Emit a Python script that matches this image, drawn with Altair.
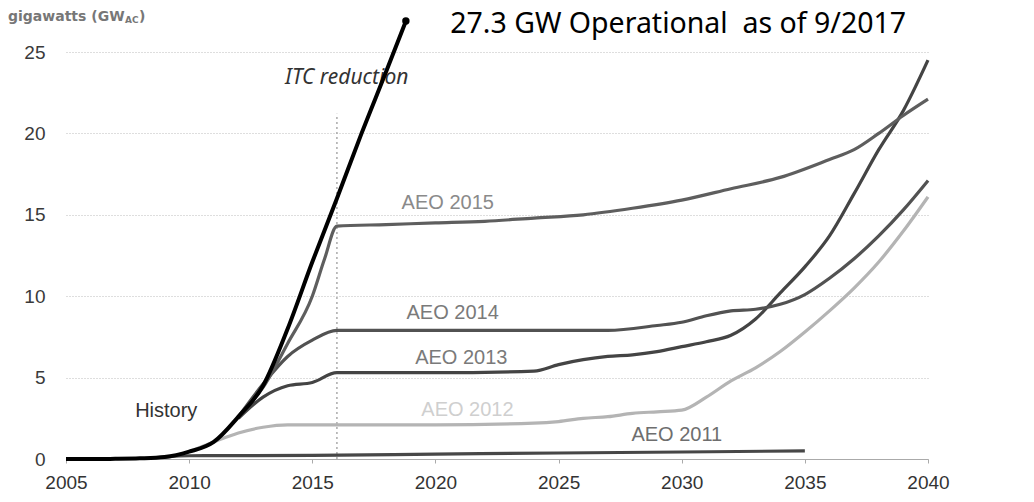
import altair as alt
import pandas as pd

# ---- data ----
hist_years = [2005, 2006, 2007, 2008, 2009, 2010, 2011, 2012, 2013, 2014, 2015, 2016, 2017, 2018, 2018.8]
hist_vals = [0, 0, 0.01, 0.04, 0.12, 0.45, 1.05, 2.6, 4.5, 8.0, 12.1, 16.0, 20.0, 23.8, 26.9]

aeo2015_years = [2012, 2013, 2014, 2015, 2015.5, 2016, 2018, 2020, 2022, 2024, 2026, 2028, 2030, 2032, 2034, 2036, 2037, 2038, 2039, 2040]
aeo2015_vals = [2.6, 4.4, 7.1, 10.0, 12.3, 14.3, 14.4, 14.5, 14.6, 14.8, 15.0, 15.4, 15.9, 16.6, 17.3, 18.4, 19.0, 20.0, 21.1, 22.1]

aeo2014_years = [2012, 2013, 2014, 2015, 2016, 2020, 2024, 2027, 2029, 2030, 2031, 2032, 2033, 2034, 2035, 2036, 2037, 2038, 2039, 2040]
aeo2014_vals = [2.6, 4.6, 6.3, 7.3, 7.9, 7.9, 7.9, 7.9, 8.2, 8.4, 8.8, 9.1, 9.2, 9.5, 10.1, 11.1, 12.3, 13.7, 15.3, 17.1]

aeo2013_years = [2012, 2013, 2014, 2015, 2016, 2020, 2024, 2025, 2026, 2027, 2028, 2029, 2030, 2031, 2032, 2033, 2034, 2035, 2036, 2037, 2038, 2039, 2040]
aeo2013_vals = [2.5, 3.8, 4.5, 4.7, 5.3, 5.3, 5.4, 5.8, 6.1, 6.3, 6.4, 6.6, 6.9, 7.2, 7.6, 8.6, 10.2, 11.8, 13.7, 16.3, 19.0, 21.4, 24.5]

aeo2012_years = [2010, 2011, 2012, 2013, 2014, 2016, 2020, 2024, 2025, 2026, 2027, 2028, 2029, 2030, 2031, 2032, 2033, 2034, 2035, 2036, 2037, 2038, 2039, 2040]
aeo2012_vals = [0.45, 1.05, 1.6, 1.95, 2.1, 2.1, 2.1, 2.2, 2.3, 2.5, 2.6, 2.8, 2.9, 3.0, 3.8, 4.8, 5.6, 6.6, 7.8, 9.1, 10.5, 12.1, 14.0, 16.1]

aeo2011_years = [2009, 2010, 2015, 2020, 2025, 2030, 2035]
aeo2011_vals = [0.12, 0.2, 0.22, 0.3, 0.37, 0.43, 0.5]

series_names = ["AEO 2011", "AEO 2012", "AEO 2013", "AEO 2014", "AEO 2015"]
series_colors = ["#474747", "#b4b4b4", "#444444", "#525252", "#5e5e5e"]

label_texts = ["AEO 2015", "AEO 2014", "AEO 2013", "AEO 2012", "AEO 2011"]
label_years = [2020.5, 2020.7, 2021.05, 2021.3, 2029.8]
label_vals = [15.7, 8.96, 6.2, 3.0, 1.47]
label_colors = ["#8a8a8a", "#7a7a7a", "#7a7a7a", "#cfcfcf", "#6e6e6e"]

itc_year, itc_cut = 2016, 21.2
op_year, op_val = 2018.8, 26.9
op_text = "27.3 GW Operational \u00a0as of 9/2017"

x_ticks = [2005, 2010, 2015, 2020, 2025, 2030, 2035, 2040]
y_ticks = [0, 5, 10, 15, 20, 25]

# ---- tables ----
rows = []
for name, yrs, vs in [("AEO 2011", aeo2011_years, aeo2011_vals),
                      ("AEO 2012", aeo2012_years, aeo2012_vals),
                      ("AEO 2013", aeo2013_years, aeo2013_vals),
                      ("AEO 2014", aeo2014_years, aeo2014_vals),
                      ("AEO 2015", aeo2015_years, aeo2015_vals)]:
    for y, v in zip(yrs, vs):
        rows.append({"series": name, "year": y, "value": v})
aeo_df = pd.DataFrame(rows)
hist_df = pd.DataFrame({"year": hist_years, "value": hist_vals})
lab_df = pd.DataFrame({"text": label_texts, "year": label_years, "value": label_vals, "c": label_colors})

xs = alt.Scale(domain=[2005, 2040], nice=False, zero=False)
ys = alt.Scale(domain=[0, 25], nice=False)

X = alt.X("year:Q", scale=xs, axis=alt.Axis(values=x_ticks, format="d", title=None, grid=False,
          labelFontSize=19, labelColor="#333", labelFont="Liberation Sans", labelPadding=10,
          labelFlush=False, domainColor="#aaa", tickColor="#aaa", tickSize=4))
Y = alt.Y("value:Q", scale=ys, axis=alt.Axis(values=y_ticks, title=None, grid=True, gridColor="#bdbdbd",
          gridDash=[1, 2], domain=False, ticks=False, labelFontSize=19, labelColor="#3a3a3a",
          labelFont="Liberation Sans", labelPadding=21))

rule = alt.Chart(pd.DataFrame({"year": [itc_year], "value": [0], "v2": [itc_cut]})).mark_rule(
    color="#aaaaaa", strokeDash=[2, 3], strokeWidth=1.5).encode(x=X, y=Y, y2="v2:Q")

aeo = alt.Chart(aeo_df).mark_line(strokeWidth=3.2, interpolate="monotone").encode(
    x=X, y=Y,
    color=alt.Color("series:N", scale=alt.Scale(domain=series_names, range=series_colors), legend=None),
    detail="series:N")

hist = alt.Chart(hist_df).mark_line(color="#000", strokeWidth=4, interpolate="monotone").encode(x=X, y=Y)

dot = alt.Chart(pd.DataFrame({"year": [op_year], "value": [op_val]})).mark_circle(
    color="#000", size=55, opacity=1).encode(x=X, y=Y)

labels = alt.Chart(lab_df).mark_text(fontSize=20, font="Liberation Sans").encode(
    x=X, y=Y, text="text:N", color=alt.Color("c:N", scale=None))

hist_lab = alt.Chart(pd.DataFrame({"year": [2009.07], "value": [2.94], "t": ["History"]})).mark_text(
    fontSize=20, font="Liberation Sans", color="#333").encode(x=X, y=Y, text="t:N")

itc_lab = alt.Chart(pd.DataFrame({"year": [2016.4], "value": [23.4], "t": ["ITC reduction"]})).mark_text(
    fontSize=21, font="Noto Sans", fontStyle="italic", color="#333").encode(x=X, y=Y, text="t:N")

op_lab = alt.Chart(pd.DataFrame({"year": [2020.6], "value": [26.15], "t": [op_text]})).mark_text(
    fontSize=28.5, font="Noto Sans", color="#000", align="left", baseline="alphabetic").encode(
    x=X, y=Y, text="t:N")

unit1 = alt.Chart(pd.DataFrame({"t": ["gigawatts (GW"]})).mark_text(
    fontSize=14, font="DejaVu Sans", fontWeight="bold", color="#777", align="left", baseline="middle"
).encode(x=alt.value(-58), y=alt.value(-35), text="t:N")
unit2 = alt.Chart(pd.DataFrame({"t": ["AC"]})).mark_text(
    fontSize=9, font="DejaVu Sans", fontWeight="bold", color="#777", align="left", baseline="middle"
).encode(x=alt.value(59), y=alt.value(-32), text="t:N")
unit3 = alt.Chart(pd.DataFrame({"t": [")"]})).mark_text(
    fontSize=14, font="DejaVu Sans", fontWeight="bold", color="#777", align="left", baseline="middle"
).encode(x=alt.value(73), y=alt.value(-35), text="t:N")

chart = alt.layer(rule, aeo, labels, hist_lab, itc_lab, hist, dot, op_lab, unit1, unit2, unit3).properties(
    width=862, height=407,
    padding={"left": 58, "top": 44, "right": 98, "bottom": 35},
    autosize=alt.AutoSizeParams(type="none"),
    background="white",
).configure_view(stroke=None)

chart.save("out.html", embed_options={"renderer": "svg", "actions": False})
